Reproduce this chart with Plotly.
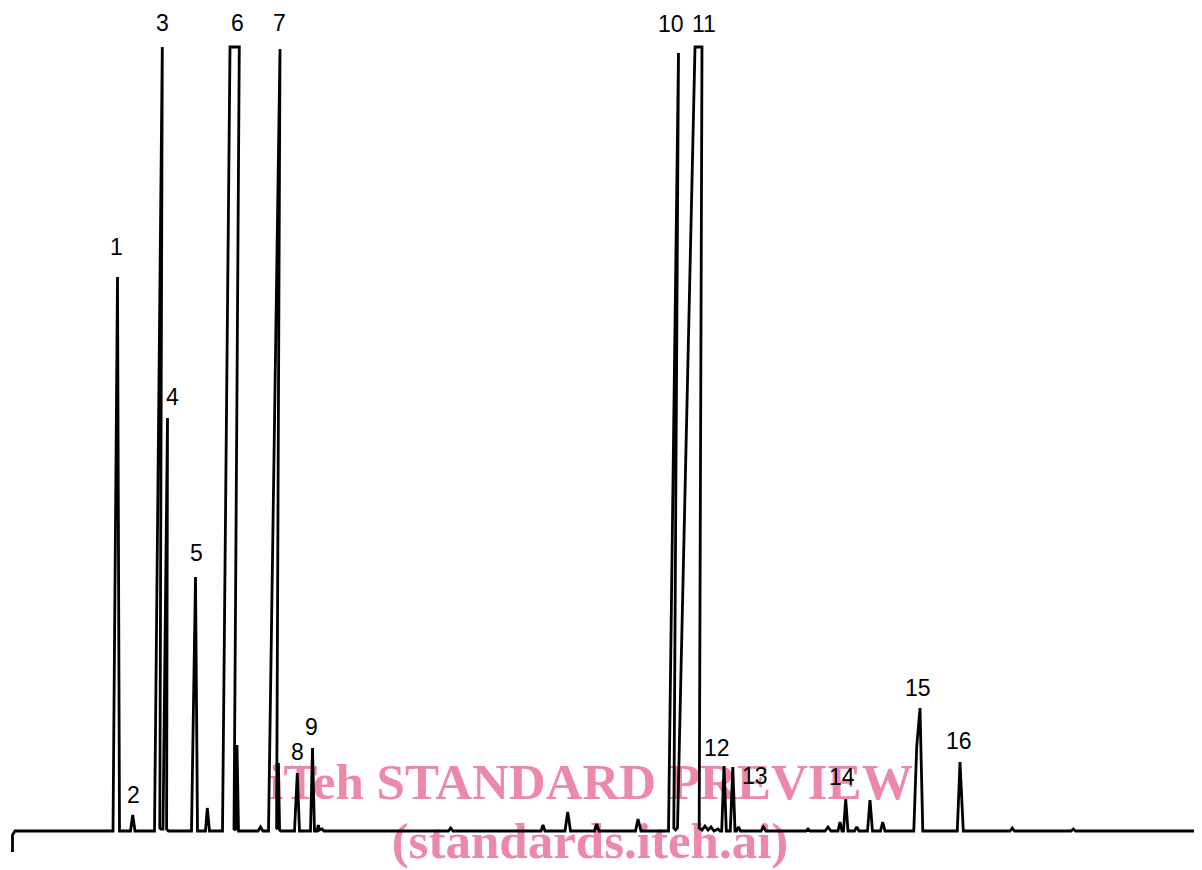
import plotly.graph_objects as go

# Chromatogram trace vertices: retention position (chart units) and detector signal
# (signal 0 = baseline, 784 = full-scale / clipped)
time = [
    12.5, 12.5, 15, 110,
    113, 117.5, 119.5,
    130.5, 132.7, 135,
    154.5, 162.3, 159.8, 161, 163, 167.5, 166.6, 168.5,
    191.5, 195.5, 197.5,
    205.5, 207.3, 209.5,
    222.5, 230, 239.3, 234, 235.6, 237, 238.5,
    258, 260.5, 263,
    268.5, 280, 276.6, 277.6, 278.4, 279.6, 281,
    294.5, 297.3, 299.5,
    310.5, 312.5, 314.5,
    317, 318.3, 319.5, 322, 324,
    448.5, 450.7, 453,
    541, 543, 545,
    565, 567.7, 570.5,
    594.5, 596.7, 599,
    635.5, 638, 641,
    668.5, 678.5, 673.8, 675.6, 677.5, 695, 702, 699.2,
    702, 705, 708, 711, 714, 718, 720,
    721.7, 724, 726.3,
    730.3, 732.8, 735,
    736.5, 738.5, 740.5,
    761, 763.3, 766,
    806, 808, 810,
    825, 828, 831,
    838, 840, 842,
    843.5, 845.7, 848,
    854.5, 856.7, 859,
    867.5, 870, 872.5,
    880.5, 882.7, 885,
    913.8, 916.7, 920, 922.8,
    957.3, 960, 963.3,
    1010, 1012.3, 1014.5,
    1071, 1073.3, 1075.5,
    1202,
]
signal = [
    -21, -4, 0, 0,
    0, 554, 0,
    0, 16, 0,
    0, 784, 3, 2, 2, 413, 2, 0,
    0, 254, 0,
    0, 23, 0,
    0, 784, 784, 2, 1, 86, 0,
    0, 4, 0,
    0, 782, 3, 2, 68, 1, 0,
    0, 58, 0,
    0, 83, 0,
    0, 6, 1, 2, 0,
    0, 3, 0,
    0, 6, 0,
    0, 19, 0,
    0, 7, 0,
    0, 12, 0,
    0, 778, 3, 1, 3, 784, 784, 3,
    1, 5, 1, 4, 0, 2, 0,
    0, 65, 0,
    0, 64, 0,
    0, 4, 0,
    0, 4, 0,
    0, 2, 0,
    0, 4, 0,
    0, 9, 0,
    0, 32, 0,
    0, 4, 0,
    0, 31, 0,
    0, 9, 0,
    0, 84, 123, 0,
    0, 69, 0,
    0, 3, 0,
    0, 2, 0,
    0,
]

# Peak numbers and where their labels sit
peak_labels = ["1", "2", "3", "4", "5", "6", "7", "8", "9", "10", "11",
               "12", "13", "14", "15", "16"]
label_x = [116, 133.5, 162, 172, 196.5, 237, 279.5, 297.5, 311.7, 670.8, 703.5,
           716.7, 755, 841.7, 917.5, 958.5]
label_y = [584, 36, 808, 434, 278, 808, 808, 79, 104, 807, 807,
           83, 55, 54, 143, 90]

watermark_lines = ["iTeh STANDARD PREVIEW", "(standards.iteh.ai)"]
watermark_x = [591, 590]
watermark_y = [45, -14]

fig = go.Figure()

fig.add_trace(go.Scatter(
    x=watermark_x, y=watermark_y, mode="text",
    text=["<b>" + t + "</b>" for t in watermark_lines],
    textposition="middle center",
    textfont=dict(family="Liberation Serif", size=51, color="#EC88A9"),
    hoverinfo="skip", cliponaxis=False, showlegend=False,
))

fig.add_trace(go.Scatter(
    x=time, y=signal, mode="lines",
    line=dict(color="black", width=2.8),
    hoverinfo="skip", cliponaxis=False, showlegend=False,
))

for t, x, y in zip(peak_labels, label_x, label_y):
    fig.add_annotation(x=x, y=y, text=t, showarrow=False,
                       xanchor="center", yanchor="middle",
                       font=dict(family="Liberation Sans", size=23, color="black"))

# the page body adds an 8px margin, so the figure is 8px smaller and its ranges start there
fig.update_xaxes(range=[8, 1202], visible=False, showgrid=False, zeroline=False)
fig.update_yaxes(range=[-39, 823], visible=False, showgrid=False, zeroline=False)
fig.update_layout(
    width=1194, height=862,
    margin=dict(l=0, r=0, t=0, b=0),
    paper_bgcolor="white", plot_bgcolor="white",
)

fig.write_html("out.html")
